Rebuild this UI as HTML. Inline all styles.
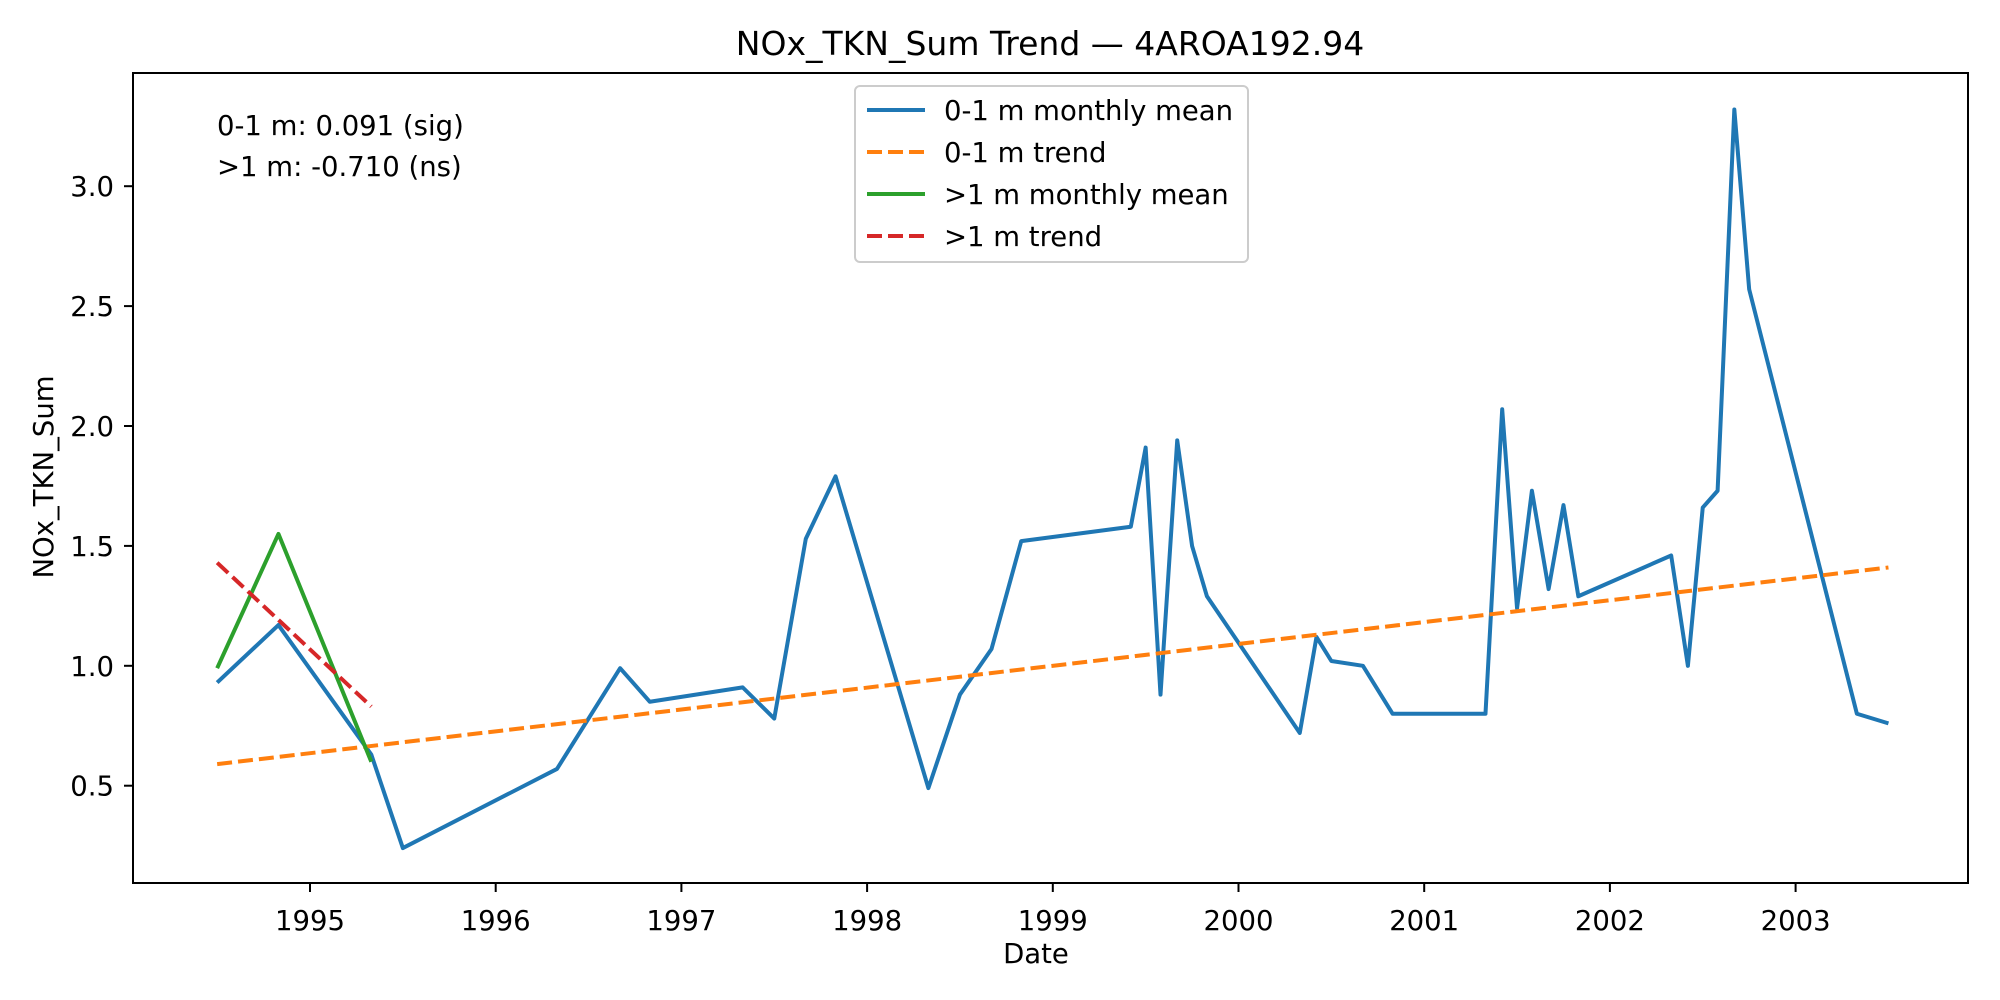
<!DOCTYPE html>
<html><head><meta charset="utf-8"><style>
html,body{margin:0;padding:0;background:#fff;}
svg{display:block;font-family:"DejaVu Sans","Liberation Sans",sans-serif;}
</style></head><body>
<svg id="chart" width="2000" height="1000" viewBox="0 0 2000 1000" xmlns="http://www.w3.org/2000/svg">
<rect x="0" y="0" width="2000" height="1000" fill="#fff"/>
<text x="1050" y="55" font-size="33" text-anchor="middle">NOx_TKN_Sum Trend — 4AROA192.94</text>
<g id="plot"></g>
<text x="217" y="135" font-size="27.5">0-1 m: 0.091 (sig)</text>
<text x="217" y="176" font-size="27.5">&gt;1 m: -0.710 (ns)</text>
<text x="1036" y="963" font-size="27.5" text-anchor="middle">Date</text>
<text x="0" y="0" font-size="27.5" text-anchor="middle" transform="translate(53,477) rotate(-90)">NOx_TKN_Sum</text>
<g>
<rect x="855" y="86" width="393" height="176" rx="5" fill="#fff" stroke="#ccc" stroke-width="2"/>
<line x1="867" y1="110" x2="925" y2="110" stroke="#1f77b4" stroke-width="4"/>
<text x="944" y="120" font-size="27.5">0-1 m monthly mean</text>
<line x1="867" y1="152" x2="925" y2="152" stroke="#ff7f0e" stroke-width="4" stroke-dasharray="15,6"/>
<text x="944" y="162" font-size="27.5">0-1 m trend</text>
<line x1="867" y1="194" x2="925" y2="194" stroke="#2ca02c" stroke-width="4"/>
<text x="944" y="204" font-size="27.5">&gt;1 m monthly mean</text>
<line x1="867" y1="236" x2="925" y2="236" stroke="#d62728" stroke-width="4" stroke-dasharray="15,6"/>
<text x="944" y="246" font-size="27.5">&gt;1 m trend</text>
</g>
</svg>
<script>
const shallowDates=[1994.5,1994.83,1995.33,1995.5,1996.33,1996.5,1996.67,1996.83,1997.33,1997.5,1997.67,1997.83,1998.33,1998.5,1998.67,1998.83,1999.42,1999.5,1999.58,1999.67,1999.75,1999.83,2000.33,2000.42,2000.5,2000.67,2000.83,2001.33,2001.42,2001.5,2001.58,2001.67,2001.75,2001.83,2002.33,2002.42,2002.5,2002.58,2002.67,2002.75,2003.33,2003.5];
const shallowValues=[0.93,1.17,0.63,0.24,0.57,0.78,0.99,0.85,0.91,0.78,1.53,1.79,0.49,0.88,1.07,1.52,1.58,1.91,0.88,1.94,1.50,1.29,0.72,1.12,1.02,1.00,0.80,0.80,2.07,1.24,1.73,1.32,1.67,1.29,1.46,1.00,1.66,1.73,3.32,2.57,0.80,0.76];
const deepDates=[1994.5,1994.83,1995.33];
const deepValues=[0.99,1.55,0.60];
const shallowTrendDates=[1994.5,2003.5];
const shallowTrendValues=[0.59,1.41];
const deepTrendDates=[1994.5,1995.33];
const deepTrendValues=[1.43,0.83];
const xTicks=[1995,1996,1997,1998,1999,2000,2001,2002,2003];
const yTicks=[0.5,1.0,1.5,2.0,2.5,3.0];

const L=133,R=1968,T=73,B=883;
const xS=v=>310+(v-1995)*185.7;
const yS=v=>785.7-(v-0.5)*239.8;
const NS="http://www.w3.org/2000/svg";
const plot=document.getElementById('plot');
function mk(tag,attrs){const e=document.createElementNS(NS,tag);for(const k in attrs)e.setAttribute(k,attrs[k]);return e;}
function poly(xs,ys,color,dash,name){
  const p=mk('polyline',{points:xs.map((x,i)=>xS(x)+','+yS(ys[i])).join(' '),fill:'none',stroke:color,'stroke-width':4,'stroke-linejoin':'round'});
  if(dash)p.setAttribute('stroke-dasharray',dash);
  
  
  plot.appendChild(p);
}
poly(shallowDates,shallowValues,'#1f77b4',null,'shallow-monthly-mean-line');
poly(shallowTrendDates,shallowTrendValues,'#ff7f0e','15,6','shallow-trend-line');
poly(deepDates,deepValues,'#2ca02c',null,'deep-monthly-mean-line');
poly(deepTrendDates,deepTrendValues,'#d62728','15,6','deep-trend-line');
const frame=mk('rect',{x:L,y:T,width:R-L,height:B-T,fill:'none',stroke:'#000','stroke-width':2});


plot.appendChild(frame);
xTicks.forEach(t=>{
  const x=xS(t);
  const l=mk('line',{x1:x,y1:B,x2:x,y2:B+9,stroke:'#000','stroke-width':2});
  
  
  plot.appendChild(l);
  const tx=mk('text',{x:x,y:930,'font-size':27.5,'text-anchor':'middle'});
  tx.textContent=t;
  
  
  plot.appendChild(tx);
});
yTicks.forEach(t=>{
  const y=yS(t);
  const l=mk('line',{x1:L-9,y1:y,x2:L,y2:y,stroke:'#000','stroke-width':2});
  
  
  plot.appendChild(l);
  const tx=mk('text',{x:114,y:y+10,'font-size':27.5,'text-anchor':'end'});
  tx.textContent=t.toFixed(1);
  
  
  plot.appendChild(tx);
});
</script>
</body></html>
